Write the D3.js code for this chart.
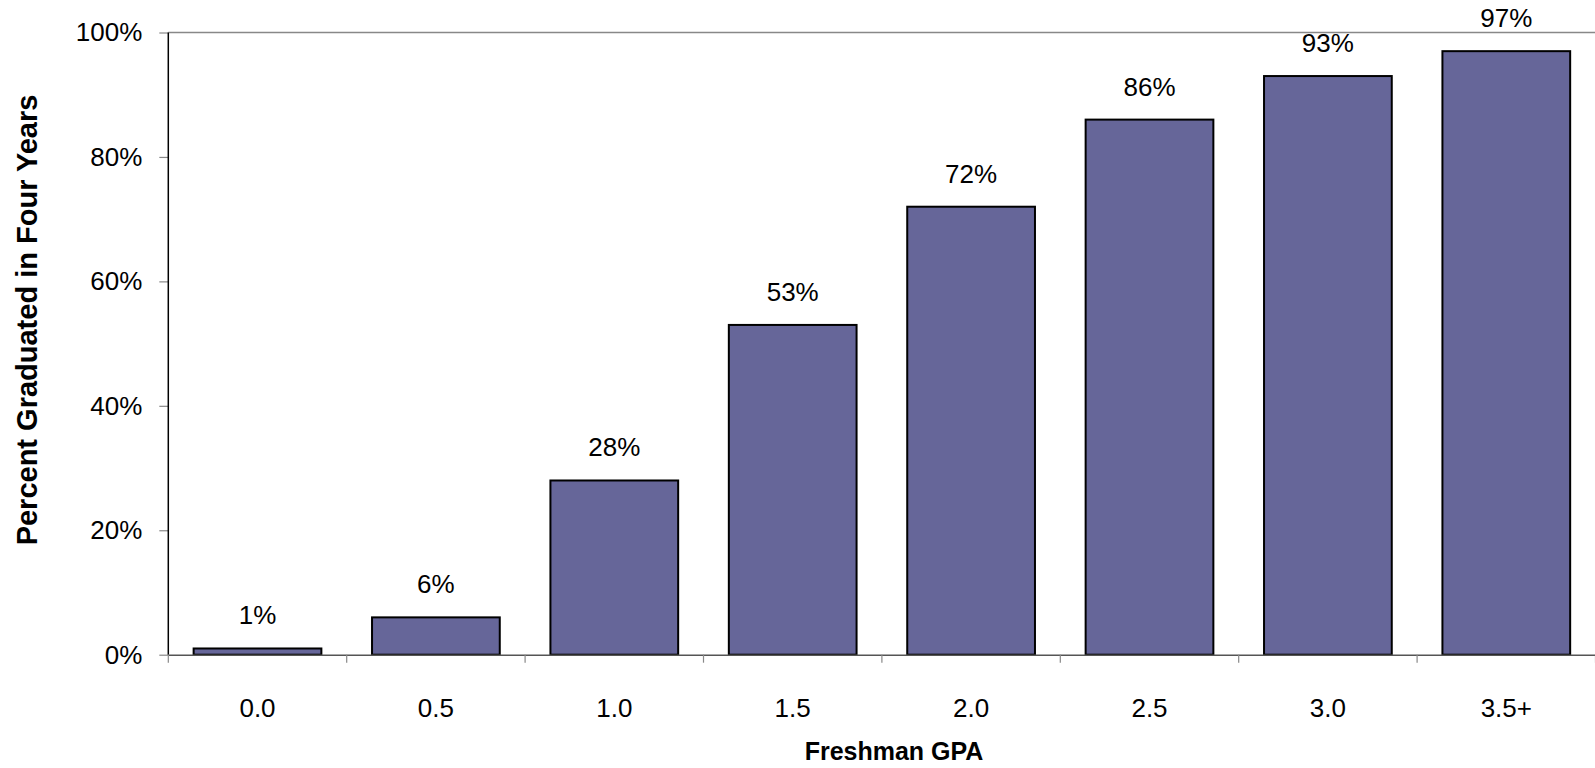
<!DOCTYPE html>
<html>
<head>
<meta charset="utf-8">
<script src="https://cdn.jsdelivr.net/npm/d3@7"></script>
<style>
  html, body { margin: 0; padding: 0; background: #fff; }
  svg { display: block; font-family: "Liberation Sans", Arial, sans-serif; }
</style>
</head>
<body>
<svg id="chart" width="1595" height="768"></svg>
<script>
// GPA buckets and four-year graduation rates (%)
const categories = ['0.0', '0.5', '1.0', '1.5', '2.0', '2.5', '3.0', '3.5+'];
const values = [1, 6, 28, 53, 72, 86, 93, 97];
const yTicks = [0, 20, 40, 60, 80, 100];

const svg = d3.select('#chart');
const margin = {top: 32.5, left: 168.3, bottom: 113.3};
const plotW = 178.4 * categories.length;
const plotH = 768 - margin.top - margin.bottom;

const g = svg.append('g').attr('transform', `translate(${margin.left},${margin.top})`);

const x = d3.scaleBand().domain(categories).range([0, plotW]).paddingInner(0.284).paddingOuter(0.142);
const y = d3.scaleLinear().domain([0, 100]).range([plotH, 0]);

// top border
g.append('line').attr('x1', 0).attr('x2', plotW).attr('y1', 0).attr('y2', 0)
  .attr('stroke', '#888').attr('stroke-width', 1.5);

// bars
g.selectAll('.bar').data(values).enter().append('rect')
  .attr('class', 'bar')
  .attr('x', (d, i) => x(categories[i]))
  .attr('y', d => y(d))
  .attr('width', x.bandwidth())
  .attr('height', d => plotH - y(d))
  .attr('fill', '#666699')
  .attr('stroke', '#000')
  .attr('stroke-width', 2);

// value labels
g.selectAll('.val').data(values).enter().append('text')
  .attr('class', 'val')
  .attr('x', (d, i) => x(categories[i]) + x.bandwidth() / 2)
  .attr('y', d => y(d) - 24)
  .attr('text-anchor', 'middle')
  .attr('font-size', '26px')
  .attr('fill', '#000')
  .text(d => d + '%');

// y axis
const yAxis = g.append('g')
  .call(d3.axisLeft(y).tickValues(yTicks).tickSize(9).tickPadding(17).tickFormat(d => d + '%'));
yAxis.select('.domain').remove();
yAxis.selectAll('.tick line').attr('stroke', '#888').attr('stroke-width', 1.2);
yAxis.selectAll('.tick text')
  .attr('font-size', '26px').attr('fill', '#000')
  .attr('font-family', '"Liberation Sans", Arial, sans-serif');
g.append('line').attr('x1', 0).attr('x2', 0).attr('y1', 0).attr('y2', plotH)
  .attr('stroke', '#000').attr('stroke-width', 1.5);

// x axis: line and boundary ticks
const xAxis = g.append('g').attr('transform', `translate(0,${plotH})`)
  .call(d3.axisBottom(x).tickSize(0).tickPadding(44));
xAxis.select('.domain').attr('stroke', '#555').attr('stroke-width', 1.5);
xAxis.selectAll('.tick text')
  .attr('font-size', '26px').attr('fill', '#000')
  .attr('font-family', '"Liberation Sans", Arial, sans-serif');
const bounds = d3.range(categories.length + 1).map(i => i * x.step());
g.selectAll('.xtick').data(bounds).enter().append('line')
  .attr('class', 'xtick')
  .attr('x1', d => d).attr('x2', d => d)
  .attr('y1', plotH).attr('y2', plotH + 8)
  .attr('stroke', '#888').attr('stroke-width', 1.2);

// axis titles
svg.append('text')
  .attr('x', 894).attr('y', 760)
  .attr('text-anchor', 'middle')
  .attr('font-size', '25px').attr('font-weight', 'bold')
  .text('Freshman GPA');

svg.append('text')
  .attr('transform', 'translate(36.5,320) rotate(-90)')
  .attr('text-anchor', 'middle')
  .attr('font-size', '29px').attr('font-weight', 'bold')
  .text('Percent Graduated in Four Years');
</script>
</body>
</html>
